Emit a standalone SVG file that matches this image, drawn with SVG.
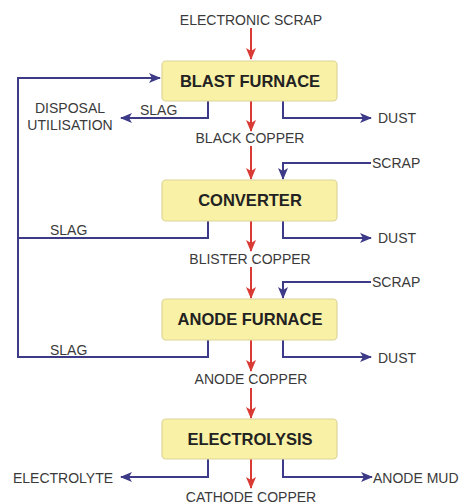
<svg xmlns="http://www.w3.org/2000/svg" width="461" height="504" viewBox="0 0 461 504">
<defs>
<style>
.box{fill:#f9f1a6;stroke:#dcd598;stroke-width:1.2}
.bt{font-family:"Liberation Sans",Arial,sans-serif;font-weight:bold;font-size:16.5px;fill:#222;text-anchor:middle}
.lb{font-family:"Liberation Sans",Arial,sans-serif;font-size:14px;fill:#3a3a3a}
.red{fill:none;stroke:#d93a34;stroke-width:2}
.blue{fill:none;stroke:#3d3a88;stroke-width:2}
</style>
<marker id="ar" markerUnits="userSpaceOnUse" markerWidth="12" markerHeight="12" viewBox="0 0 12 12" refX="11" refY="6" orient="auto">
<path d="M0 1 L12 6 L0 11 L3 6 Z" fill="#d93a34"/>
</marker>
<marker id="ab" markerUnits="userSpaceOnUse" markerWidth="12" markerHeight="12" viewBox="0 0 12 12" refX="11" refY="6" orient="auto">
<path d="M0 1 L12 6 L0 11 L3 6 Z" fill="#3d3a88"/>
</marker>
</defs>
<rect width="461" height="504" fill="#fff"/>
<g id="connectors">
<path class="red" d="M251 28 V59" marker-end="url(#ar)"/>
<path class="red" d="M251 101 V131" marker-end="url(#ar)"/>
<path class="red" d="M251 146 V179" marker-end="url(#ar)"/>
<path class="red" d="M251 221 V251" marker-end="url(#ar)"/>
<path class="red" d="M251 267 V298" marker-end="url(#ar)"/>
<path class="red" d="M251 340 V371" marker-end="url(#ar)"/>
<path class="red" d="M251 388 V418" marker-end="url(#ar)"/>
<path class="red" d="M251 459 V488" marker-end="url(#ar)"/>
<path class="blue" d="M208 340 V357 H18 V78 H160" marker-end="url(#ab)"/>
<path class="blue" d="M208 221 V238 H18"/>
<path class="blue" d="M208 101 V118 H121" marker-end="url(#ab)"/>
<path class="blue" d="M283 101 V118 H371" marker-end="url(#ab)"/>
<path class="blue" d="M371 163 H283 V179" marker-end="url(#ab)"/>
<path class="blue" d="M283 221 V238 H371" marker-end="url(#ab)"/>
<path class="blue" d="M371 282 H283 V298" marker-end="url(#ab)"/>
<path class="blue" d="M283 340 V357 H371" marker-end="url(#ab)"/>
<path class="blue" d="M208 459 V477 H121" marker-end="url(#ab)"/>
<path class="blue" d="M283 459 V477 H372" marker-end="url(#ab)"/>
</g>
<g id="blast-furnace"><rect class="box" x="162" y="61" width="175" height="40" rx="4"/><text class="bt" x="250" y="87">BLAST FURNACE</text></g>
<g id="converter"><rect class="box" x="162" y="180" width="175" height="41" rx="4"/><text class="bt" x="250" y="206">CONVERTER</text></g>
<g id="anode-furnace"><rect class="box" x="162" y="299" width="175" height="41" rx="4"/><text class="bt" x="250" y="325">ANODE FURNACE</text></g>
<g id="electrolysis"><rect class="box" x="162" y="419" width="175" height="40" rx="4"/><text class="bt" x="250" y="445">ELECTROLYSIS</text></g>
<g id="labels">
<text class="lb" x="251" y="25" text-anchor="middle">ELECTRONIC SCRAP</text>
<text class="lb" x="70" y="113" text-anchor="middle">DISPOSAL</text>
<text class="lb" x="70" y="130" text-anchor="middle">UTILISATION</text>
<text class="lb" x="140" y="115">SLAG</text>
<text class="lb" x="378" y="123">DUST</text>
<text class="lb" x="250" y="143" text-anchor="middle">BLACK COPPER</text>
<text class="lb" x="372" y="168">SCRAP</text>
<text class="lb" x="50" y="235">SLAG</text>
<text class="lb" x="378" y="243">DUST</text>
<text class="lb" x="250" y="264" text-anchor="middle">BLISTER COPPER</text>
<text class="lb" x="372" y="287">SCRAP</text>
<text class="lb" x="50" y="355">SLAG</text>
<text class="lb" x="378" y="363">DUST</text>
<text class="lb" x="251" y="384" text-anchor="middle">ANODE COPPER</text>
<text class="lb" x="63" y="483" text-anchor="middle">ELECTROLYTE</text>
<text class="lb" x="373" y="483">ANODE MUD</text>
<text class="lb" x="251" y="502" text-anchor="middle">CATHODE COPPER</text>
</g>
</svg>
